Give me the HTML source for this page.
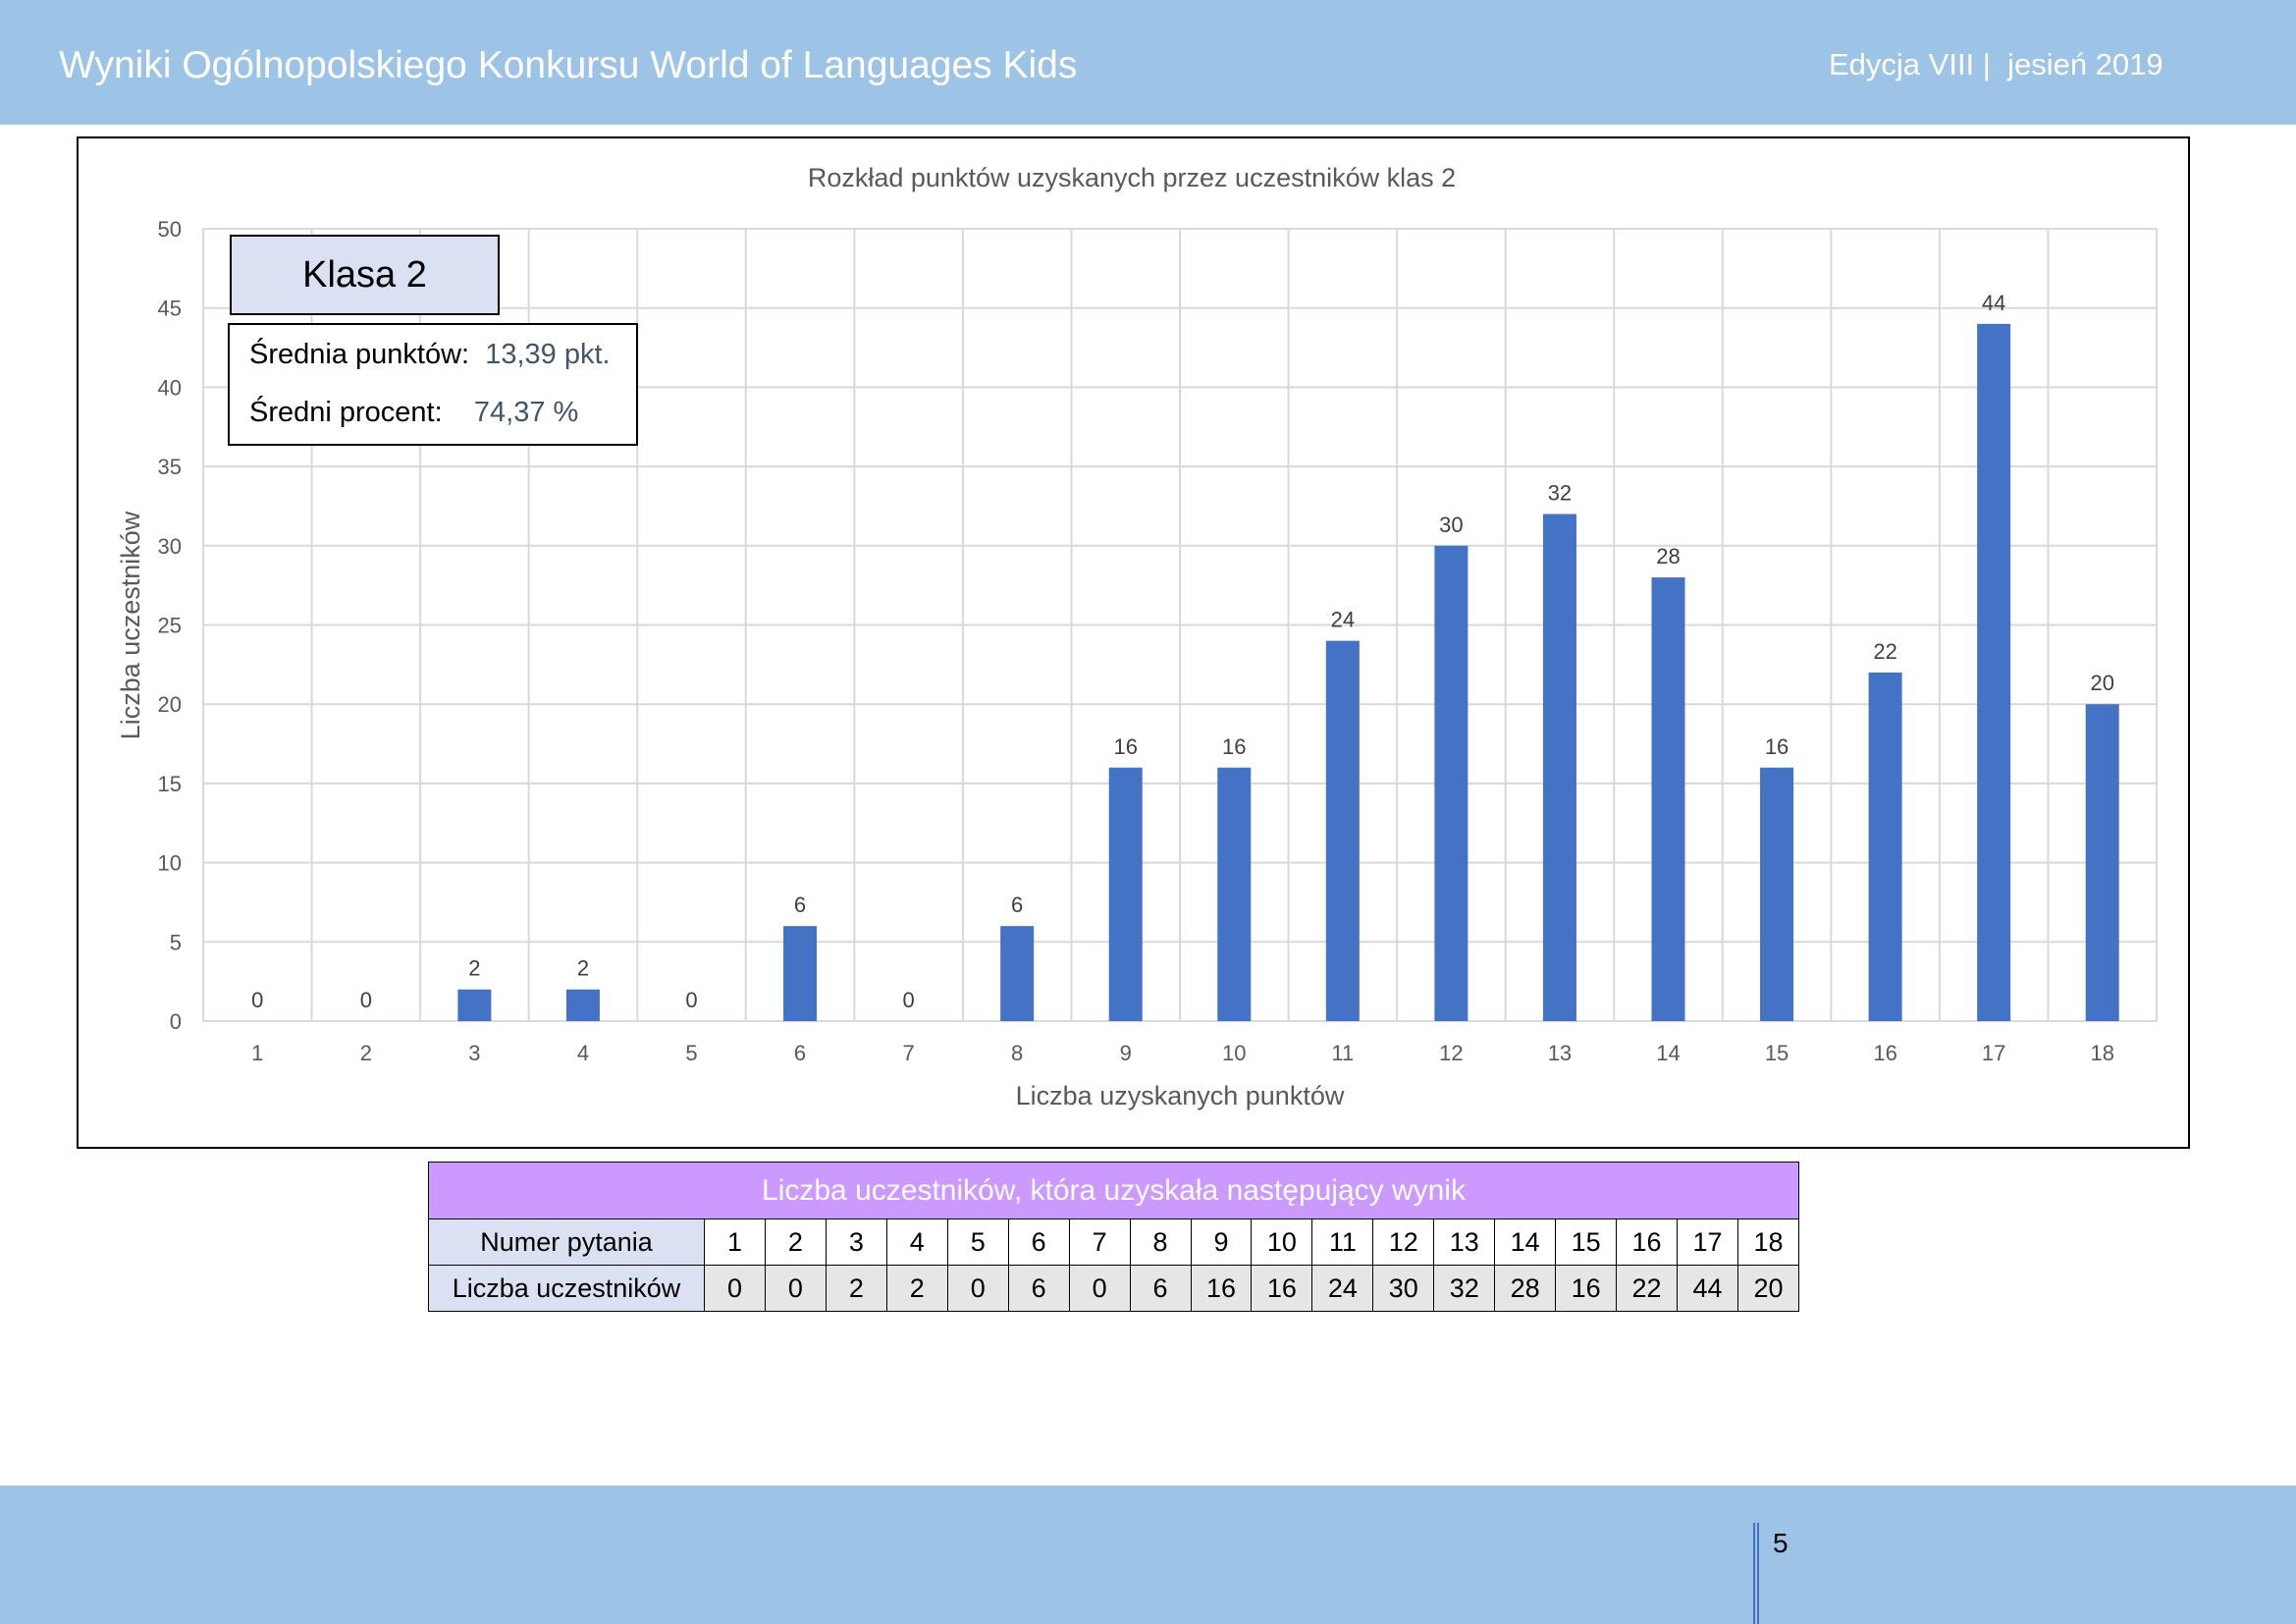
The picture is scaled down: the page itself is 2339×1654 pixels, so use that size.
<!DOCTYPE html>
<html><head><meta charset="utf-8"><style>
body{margin:0;width:2339px;height:1654px;position:relative;background:#fff;font-family:"Liberation Sans",sans-serif;overflow:hidden}
.abs{position:absolute}
table{border-collapse:collapse;table-layout:fixed}
td{border:1.5px solid #000;text-align:center;padding:0;font-size:27px;color:#000}
</style></head><body>
<div class="abs" style="left:0;top:0;width:2339px;height:127px;background:#9dc3e6"></div>
<div class="abs" style="left:60px;top:45px;font-size:39px;color:#fff">Wyniki Ogólnopolskiego Konkursu World of Languages Kids</div>
<div class="abs" style="left:1863px;top:48px;font-size:31px;color:#fff;white-space:pre">Edycja VIII |  jesień 2019</div>

<div class="abs" style="left:78px;top:139px;width:2149px;height:1027px;border:2px solid #000"></div>
<svg class="abs" style="left:0;top:0" width="2339" height="1654" id="chart"></svg>

<div class="abs" style="left:234px;top:239px;width:271px;height:78px;background:#d9e1f2;border:2px solid #000;font-size:38px;line-height:78px;text-align:center">Klasa 2</div>
<div class="abs" style="left:232px;top:329px;width:414px;height:121px;background:#fff;border:2px solid #000;font-size:29px">
<div style="position:absolute;left:20px;top:14px">Średnia punktów:&nbsp; <span style="color:#44546a">13,39 pkt.</span></div>
<div style="position:absolute;left:20px;top:73px">Średni procent:&nbsp;&nbsp;&nbsp; <span style="color:#44546a">74,37 %</span></div>
</div>

<table class="abs" style="left:436px;top:1183px;width:1396px" id="tbl">
<colgroup id="cols"></colgroup>
<tr style="height:58px"><td colspan="19" style="background:#cc99ff;color:#fff;font-size:30px">Liczba uczestników, która uzyskała następujący wynik</td></tr>
</table>

<div class="abs" style="left:0;top:1513px;width:2339px;height:141px;background:#9dc3e6"></div>
<div class="abs" style="left:1786px;top:1551px;width:2px;height:103px;background:#4472c4"></div>
<div class="abs" style="left:1790px;top:1551px;width:2px;height:103px;background:#4472c4"></div>
<div class="abs" style="left:1806px;top:1556px;font-size:28px;color:#000">5</div>

<script>
const categories=[1,2,3,4,5,6,7,8,9,10,11,12,13,14,15,16,17,18];
const values=[0,0,2,2,0,6,0,6,16,16,24,30,32,28,16,22,44,20];
const yTicks=[0,5,10,15,20,25,30,35,40,45,50];
const NS='http://www.w3.org/2000/svg';
const svg=document.getElementById('chart');
const L=207,R=2197,T=233,B=1040,yMax=50;
const bw=(R-L)/categories.length;
const y=v=>B-(v/yMax)*(B-T);
const x=i=>L+bw*(i+0.5);
function mk(t,a,txt){const e=document.createElementNS(NS,t);for(const k in a)e.setAttribute(k,a[k]);if(txt!==undefined)e.textContent=txt;svg.appendChild(e);return e;}
yTicks.forEach(t=>{
 const g=mk('line',{x1:L,x2:R,y1:y(t),y2:y(t),stroke:'#d9d9d9','stroke-width':2});
 
 
 const l=mk('text',{x:185,y:y(t)+8,'text-anchor':'end','font-size':22,fill:'#595959','font-family':'Liberation Sans'},t);
 
 
});
for(let i=0;i<=categories.length;i++){
 const g=mk('line',{x1:L+bw*i,x2:L+bw*i,y1:T,y2:B,stroke:'#d9d9d9','stroke-width':2});
 
 
}
categories.forEach((c,i)=>{
 const v=values[i];
 const r=mk('rect',{x:x(i)-17,y:y(v),width:34,height:B-y(v),fill:'#4472c4'});
 
 
 const d=mk('text',{x:x(i),y:y(v)-14,'text-anchor':'middle','font-size':22,fill:'#404040','font-family':'Liberation Sans'},v);
 
 
 const t=mk('text',{x:x(i),y:1080,'text-anchor':'middle','font-size':22,fill:'#595959','font-family':'Liberation Sans'},c);
 
 
});
const tt=mk('text',{x:1153,y:190,'text-anchor':'middle','font-size':27,fill:'#595959','font-family':'Liberation Sans'},'Rozkład punktów uzyskanych przez uczestników klas 2');


const xt=mk('text',{x:1202,y:1125,'text-anchor':'middle','font-size':27,fill:'#595959','font-family':'Liberation Sans'},'Liczba uzyskanych punktów');


const yt=mk('text',{x:0,y:0,'text-anchor':'middle','font-size':27,fill:'#595959','font-family':'Liberation Sans',transform:'translate(142,637) rotate(-90)'},'Liczba uczestników');



const cols=document.getElementById('cols');
const c0=document.createElement('col');c0.style.width='281px';cols.appendChild(c0);
categories.forEach(()=>{const c=document.createElement('col');c.style.width=((1396-281)/categories.length)+'px';cols.appendChild(c);});
const tbl=document.getElementById('tbl');
function row(label,arr,bg){
 const tr=document.createElement('tr');tr.style.height='47px';
 const h=document.createElement('td');h.textContent=label;h.style.background='#d9e1f2';
 
 
 tr.appendChild(h);
 arr.forEach(v=>{const td=document.createElement('td');td.textContent=v;td.style.background=bg;
  
  
  tr.appendChild(td);});
 tbl.appendChild(tr);
}
row('Numer pytania',categories,'#fff');
row('Liczba uczestników',values,'#e7e6e6');
</script>
</body></html>
